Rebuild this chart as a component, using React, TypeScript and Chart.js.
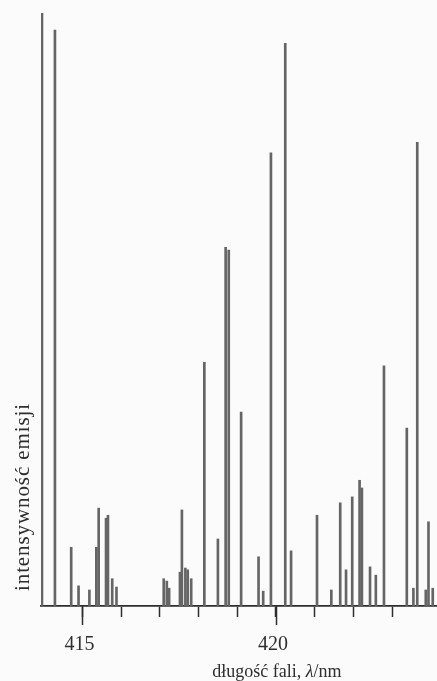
import React, { useEffect, useRef } from "react";
import { Chart, registerables } from "chart.js";

Chart.register(...registerables);

// Emission line positions (nm) and relative intensities
const wavelengths = [
  413.955, 414.29, 414.71, 414.9, 415.18, 415.36, 415.42, 415.61, 415.66, 415.77,
  415.88, 417.1, 417.18, 417.24, 417.52, 417.57, 417.66, 417.72, 417.81, 418.15,
  418.5, 418.7, 418.78, 419.1, 419.55, 419.67, 419.87, 420.24, 420.39, 421.06,
  421.43, 421.66, 421.81, 421.97, 422.16, 422.22, 422.43, 422.58, 422.79, 423.38,
  423.55, 423.65, 423.87, 423.94, 424.05,
];
const intensities = [
  100, 97.1, 9.9, 3.4, 2.7, 9.9, 16.5, 14.8, 15.3, 4.6,
  3.2, 4.6, 4.2, 3.0, 5.7, 16.2, 6.4, 6.1, 4.6, 41.1,
  11.3, 60.5, 60.0, 32.7, 8.3, 2.5, 76.4, 94.9, 9.3, 15.3,
  2.7, 17.4, 6.1, 18.4, 21.2, 19.9, 6.6, 5.2, 40.5, 30.0,
  3.0, 78.2, 2.7, 14.2, 3.0,
];
const tickValues = [415, 416, 417, 418, 419, 420, 421, 422, 423];
const labelledTicks = [415, 420];
const xMin = 413.93;
const xMax = 424.16;
const yMax = 100;
const xTitleMain = "długość fali, ";
const xTitleSymbol = "λ";
const xTitleUnit = "/nm";
const yTitle = "intensywność emisji";

const SERIF = "'Liberation Serif', 'DejaVu Serif', serif";
const INK = "#2e2e2e";

const decorPlugin = {
  id: "decor",
  afterDraw(chart: any) {
    const ctx = chart.ctx as CanvasRenderingContext2D;
    const xs = chart.scales.x;
    const area = chart.chartArea;
    const base = area.bottom;
    ctx.save();
    // longer marks for labelled ticks
    ctx.strokeStyle = INK;
    ctx.lineWidth = 1.5;
    labelledTicks.forEach((v) => {
      const px = Math.round(xs.getPixelForValue(v)) + 0.5;
      ctx.beginPath();
      ctx.moveTo(px, base);
      ctx.lineTo(px, base + 19);
      ctx.stroke();
    });
    // x title
    ctx.fillStyle = INK;
    ctx.textBaseline = "alphabetic";
    ctx.textAlign = "left";
    const normal = `18px ${SERIF}`;
    const italic = `italic 18px ${SERIF}`;
    ctx.font = normal;
    const w1 = ctx.measureText(xTitleMain).width;
    const w3 = ctx.measureText(xTitleUnit).width;
    ctx.font = italic;
    const w2 = ctx.measureText(xTitleSymbol).width;
    const total = w1 + w2 + w3;
    const cx = xs.getPixelForValue(420) + 1;
    let x0 = cx - total / 2;
    const ty = base + 71;
    ctx.font = normal;
    ctx.fillText(xTitleMain, x0, ty);
    x0 += w1;
    ctx.font = italic;
    ctx.fillText(xTitleSymbol, x0, ty);
    x0 += w2;
    ctx.font = normal;
    ctx.fillText(xTitleUnit, x0, ty);
    // y title (rotated, reading upwards from near the baseline)
    ctx.translate(area.left - 12, base - 15);
    ctx.rotate(-Math.PI / 2);
    ctx.font = `21px ${SERIF}`;
    (ctx as any).letterSpacing = "0.9px";
    ctx.fillText(yTitle, 0, 0);
    ctx.restore();
  },
};

export default function App() {
  const canvasRef = useRef<HTMLCanvasElement | null>(null);

  useEffect(() => {
    const canvas = canvasRef.current;
    if (!canvas) return;
    const points = wavelengths.map((w, i) => ({ x: w, y: intensities[i] }));
    const chart = new Chart(canvas, {
      type: "bar",
      data: {
        datasets: [
          {
            data: points as any,
            backgroundColor: "#656565",
            borderWidth: 0,
            barThickness: 2,
          },
        ],
      },
      options: {
        responsive: false,
        maintainAspectRatio: false,
        animation: false,
        devicePixelRatio: 1,
        layout: { padding: { top: 13, right: 0, left: 0, bottom: 0 } },
        plugins: {
          legend: { display: false },
          tooltip: { enabled: false },
          title: { display: false },
        },
        scales: {
          x: {
            type: "linear",
            offset: false,
            min: xMin,
            max: xMax,
            afterBuildTicks: (scale: any) => {
              scale.ticks = tickValues.map((v) => ({ value: v }));
            },
            afterFit: (scale: any) => {
              scale.height = 75;
              scale.paddingLeft = 0;
              scale.paddingRight = 0;
            },
            border: { display: true, color: INK, width: 1.8 },
            grid: {
              display: true,
              offset: false,
              drawOnChartArea: false,
              drawTicks: true,
              tickLength: 11,
              tickColor: INK,
              tickWidth: 1.5,
            },
            ticks: {
              autoSkip: false,
              maxRotation: 0,
              padding: 16,
              labelOffset: -3,
              color: INK,
              font: { family: SERIF, size: 20 },
              callback: (v: any) => (labelledTicks.includes(Number(v)) ? String(v) : ""),
            },
          },
          y: {
            min: 0,
            max: yMax,
            afterFit: (scale: any) => {
              scale.width = 41;
            },
            border: { display: false },
            grid: { display: false },
            ticks: { display: false },
          },
        },
      },
      plugins: [decorPlugin],
    });
    return () => chart.destroy();
  }, []);

  return (
    <div
      style={{
        position: "fixed",
        left: 0,
        top: 0,
        width: 437,
        height: 681,
        background: "#fbfbfb",
      }}
    >
      <canvas ref={canvasRef} width={437} height={681} style={{ display: "block" }} />
    </div>
  );
}
